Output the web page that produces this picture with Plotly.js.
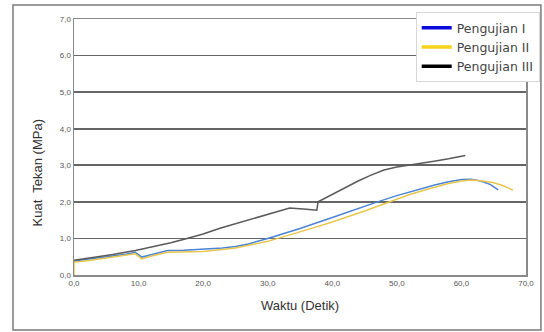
<!DOCTYPE html>
<html>
<head>
<meta charset="utf-8">
<script src="https://cdn.plot.ly/plotly-3.0.1.min.js"></script>
<style>
  html, body { margin: 0; padding: 0; background: #ffffff; }
  #chart { width: 544px; height: 332px; }
</style>
</head>
<body>
<div id="chart"></div>
<script>
// Uji kuat tekan: waktu (detik) vs kuat tekan (MPa)
const seriesNames = ['Pengujian I', 'Pengujian II', 'Pengujian III'];

const waktu1 = [0, 2, 4, 6, 8, 9.5, 10.5, 12, 14.5, 17, 20, 23, 25, 27, 30, 35, 40, 44, 47, 50, 53, 56, 58, 60, 61.5, 63, 64.5, 65.7];
const kuat1  = [0.38, 0.42, 0.47, 0.52, 0.57, 0.62, 0.49, 0.56, 0.67, 0.68, 0.70, 0.74, 0.78, 0.85, 1.00, 1.27, 1.57, 1.82, 2.00, 2.17, 2.33, 2.47, 2.55, 2.61, 2.62, 2.57, 2.47, 2.33];

const waktu2 = [0, 0, 2, 4, 6, 8, 9.5, 10.5, 12, 14.5, 17, 20, 25, 30, 35, 40, 45, 48.8, 52, 55, 58, 60, 61.5, 63, 65, 66.5, 68];
const kuat2  = [0.0, 0.35, 0.39, 0.44, 0.49, 0.54, 0.58, 0.44, 0.52, 0.62, 0.63, 0.64, 0.74, 0.92, 1.18, 1.45, 1.75, 2.00, 2.20, 2.36, 2.50, 2.57, 2.60, 2.58, 2.52, 2.44, 2.32];

const waktu3 = [0, 3, 6, 9.5, 12, 15, 17.5, 20, 22.6, 26, 29, 32, 33.4, 36, 37.6, 37.8, 40, 42, 44, 46, 48, 50, 52, 54, 56, 58, 60.6];
const kuat3  = [0.40, 0.47, 0.56, 0.67, 0.76, 0.88, 1.00, 1.12, 1.28, 1.45, 1.62, 1.76, 1.83, 1.80, 1.77, 2.00, 2.20, 2.40, 2.57, 2.73, 2.87, 2.95, 3.00, 3.05, 3.12, 3.18, 3.27];

const lineColors   = ['#4a84d2', '#e6c64e', '#5a5a5a'];
const legendColors = ['#0a0adc', '#f7d21a', '#000000'];

const xs = [waktu1, waktu2, waktu3];
const ys = [kuat1, kuat2, kuat3];

const traces = [];
for (let i = 0; i < 3; i++) {
  traces.push({
    x: xs[i], y: ys[i], type: 'scatter', mode: 'lines',
    name: seriesNames[i], showlegend: false, hoverinfo: 'skip',
    line: { color: lineColors[i], width: 1.5 }
  });
}
// legend swatches
for (let i = 0; i < 3; i++) {
  traces.push({
    x: [null], y: [null], type: 'scatter', mode: 'lines',
    name: seriesNames[i], showlegend: true,
    line: { color: legendColors[i], width: 3.5 }
  });
}

const tickFont = { family: 'Liberation Sans, Arial, sans-serif', size: 8, color: '#555555' };

const layout = {
  width: 544, height: 332,
  margin: { l: 74, r: 18, t: 19, b: 57, autoexpand: false },
  paper_bgcolor: '#ffffff', plot_bgcolor: '#ffffff',
  separators: ',.',
  showlegend: true,
  legend: {
    x: 0.756, y: 1.027, xanchor: 'left', yanchor: 'top',
    bgcolor: '#ffffff', bordercolor: '#d6d6d6', borderwidth: 1,
    font: { family: 'DejaVu Sans, sans-serif', size: 12.5, color: '#444444' },
    tracegroupgap: 0
  },
  xaxis: {
    range: [0, 70], dtick: 10, tickformat: '.1f',
    tickfont: tickFont, ticks: '', ticklen: 0,
    showgrid: false, zeroline: false,
    showline: true, mirror: true, linecolor: '#8a8a8a', linewidth: 1.5,
    title: { text: 'Waktu (Detik)', standoff: 14,
      font: { family: 'Liberation Sans, Arial, sans-serif', size: 13, color: '#333333' } }
  },
  yaxis: {
    range: [0, 7], dtick: 1, tickformat: '.1f',
    tickfont: tickFont, ticks: '',
    showgrid: true, gridcolor: '#666666', gridwidth: 1.8,
    zeroline: false,
    showline: true, mirror: true, linecolor: '#8a8a8a', linewidth: 1.5
  },
  annotations: [{
    text: 'Kuat  Tekan (MPa)', textangle: -90,
    xref: 'paper', yref: 'paper', x: -0.08, y: 0.40,
    xanchor: 'center', yanchor: 'middle', showarrow: false,
    font: { family: 'Liberation Sans, Arial, sans-serif', size: 13, color: '#333333' }
  }],
  shapes: [{
    type: 'rect', xref: 'paper', yref: 'paper', layer: 'below',
    x0: -0.135, x1: 1.033, y0: -0.215, y1: 1.055,
    line: { color: '#7a7a7a', width: 1.5 }
  }]
};

Plotly.newPlot('chart', traces, layout, { staticPlot: true, displayModeBar: false });
</script>
</body>
</html>
